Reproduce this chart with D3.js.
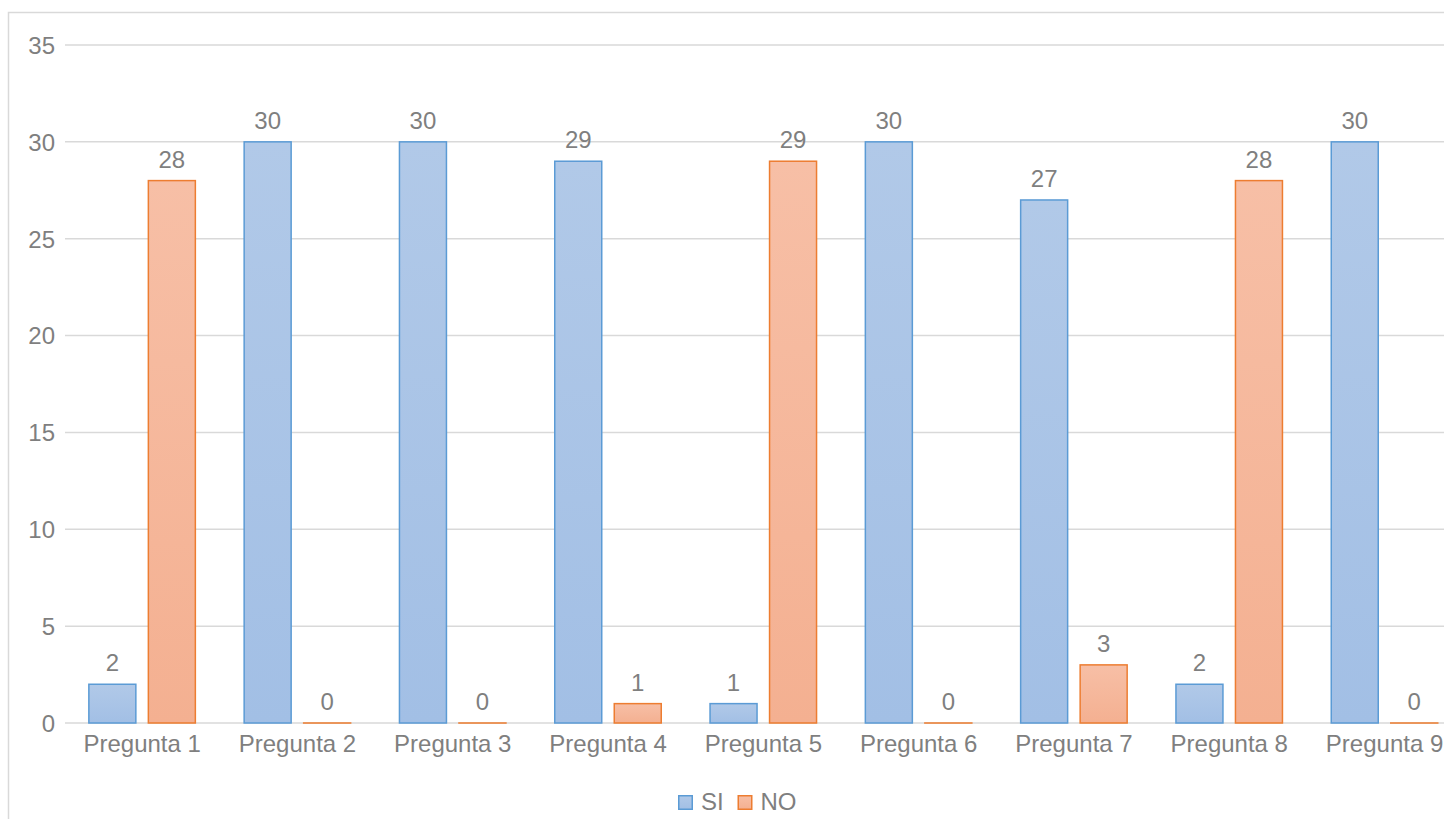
<!DOCTYPE html>
<html><head><meta charset="utf-8">
<script src="https://cdn.jsdelivr.net/npm/d3@7"></script>
<style>html,body{margin:0;padding:0;background:#fff;overflow:hidden}text{font-family:"Liberation Sans",Arial,sans-serif}</style>
</head><body>
<svg id="c" width="1444" height="819"></svg>
<script>
const categories = ["Pregunta 1","Pregunta 2","Pregunta 3","Pregunta 4","Pregunta 5","Pregunta 6","Pregunta 7","Pregunta 8","Pregunta 9"];
const seriesNames = ["SI","NO"];
const siValues = [2,30,30,29,1,30,27,2,30];
const noValues = [28,0,0,1,29,0,3,28,0];
const yTicks = [0,5,10,15,20,25,30,35];

const svg = d3.select("#c");
const textColor = "#7f7f7f";
const fontSize = "24px";
const colors = {SI:{stroke:"#5b9bd5",top:"#b1c9e8",bot:"#a2bfe5"}, NO:{stroke:"#ed7d31",top:"#f7bfa6",bot:"#f4b091"}};

const defs = svg.append("defs");
seriesNames.forEach(s=>{
  const g = defs.append("linearGradient").attr("id","g"+s).attr("x1",0).attr("y1",0).attr("x2",0).attr("y2",1);
  g.append("stop").attr("offset","0%").attr("stop-color",colors[s].top);
  g.append("stop").attr("offset","100%").attr("stop-color",colors[s].bot);
});

// chart border
svg.append("rect").attr("x",8.5).attr("y",12.5).attr("width",1500).attr("height",900)
  .attr("fill","none").attr("stroke","#d9d9d9").attr("stroke-width",1.5);

const y = d3.scaleLinear().domain([0,35]).range([723,45]);
const x = d3.scaleBand().domain(categories).range([64.5, 64.5+9*155.3]).paddingInner(0).paddingOuter(0);
const xs = d3.scaleBand().domain(seriesNames).range([23.6,131.6]).paddingInner(0.185).paddingOuter(0);

// gridlines
svg.append("g").selectAll("line").data(yTicks).join("line")
  .attr("x1",65).attr("x2",1444).attr("y1",d=>y(d)).attr("y2",d=>y(d))
  .attr("stroke","#d9d9d9").attr("stroke-width",1.5);

// y axis labels
const yAxis = d3.axisLeft(y).tickValues(yTicks).tickSize(0).tickPadding(0);
const ga = svg.append("g").attr("transform","translate(55,0)").call(yAxis);
ga.select(".domain").remove();
ga.selectAll("text").attr("fill",textColor).style("font-size",fontSize).attr("dy","0.35em");

// x axis labels
const xAxis = d3.axisBottom(x).tickSize(0).tickPadding(0);
const gx = svg.append("g").attr("transform","translate(0,735)").call(xAxis);
gx.select(".domain").remove();
gx.selectAll("text").attr("fill",textColor).style("font-size",fontSize).attr("dy","0.71em");

const data = [];
categories.forEach((c,i)=>{
  data.push({cat:c,s:"SI",v:siValues[i]});
  data.push({cat:c,s:"NO",v:noValues[i]});
});

const bars = svg.append("g");
bars.selectAll("rect").data(data).join("rect")
  .attr("x",d=>x(d.cat)+xs(d.s)+0.75)
  .attr("width",xs.bandwidth()-1.5)
  .attr("y",d=>y(d.v))
  .attr("height",d=>Math.max(y(0)-y(d.v),0.01))
  .attr("fill",d=>"url(#g"+d.s+")")
  .attr("stroke",d=>colors[d.s].stroke)
  .attr("stroke-width",1.5);

svg.append("g").selectAll("text").data(data).join("text")
  .attr("x",d=>x(d.cat)+xs(d.s)+xs.bandwidth()/2)
  .attr("y",d=>y(d.v)-13)
  .attr("text-anchor","middle")
  .attr("fill",textColor).style("font-size",fontSize)
  .text(d=>d.v);

// legend
const leg = svg.append("g");
const legItems = [{s:"SI",x:678},{s:"NO",x:737.5}];
legItems.forEach(it=>{
  leg.append("rect").attr("x",it.x+0.75).attr("y",795.75).attr("width",13.5).attr("height",13.5)
    .attr("fill","url(#g"+it.s+")").attr("stroke",colors[it.s].stroke).attr("stroke-width",1.5);
  leg.append("text").attr("x",it.x+23).attr("y",810).attr("fill",textColor).style("font-size",fontSize).text(it.s);
});
</script>
</body></html>
